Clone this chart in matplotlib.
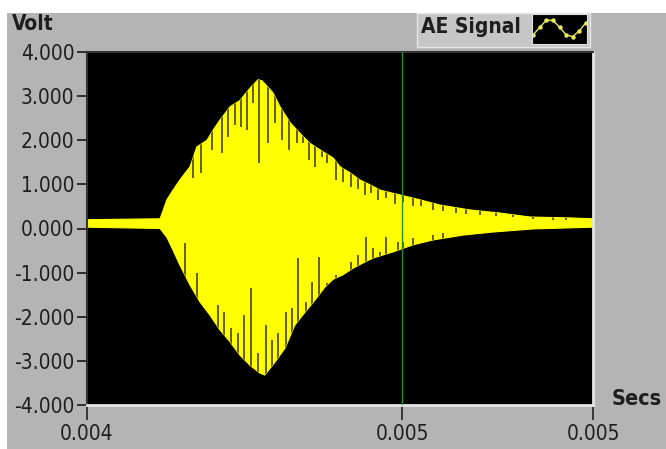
import numpy as np
import matplotlib
matplotlib.use('Agg')
import matplotlib.pyplot as plt
from matplotlib.patches import Rectangle

# --- data (time in seconds, amplitude in volts) ---
upper_t = [0.004000, 0.004202, 0.004208, 0.004221, 0.004238, 0.004257, 0.004285,
           0.004304, 0.004332, 0.004349, 0.004368, 0.004396, 0.004423, 0.004451,
           0.004473, 0.004484, 0.004501, 0.004515, 0.004534, 0.004562, 0.004589,
           0.004617, 0.004645, 0.004681, 0.004700, 0.004728, 0.004755, 0.004783,
           0.004811, 0.004866, 0.004921, 0.004977, 0.005060, 0.005143, 0.005226,
           0.005336, 0.005400]
upper_v = [0.20, 0.22, 0.35, 0.65, 0.87, 1.10, 1.40,
           1.85, 2.00, 2.23, 2.46, 2.76, 2.90, 3.18,
           3.37, 3.35, 3.20, 3.07, 2.76, 2.40, 2.16,
           1.93, 1.78, 1.60, 1.40, 1.26, 1.10, 0.99,
           0.87, 0.76, 0.65, 0.53, 0.42, 0.35, 0.26,
           0.24, 0.22]

lower_t = [0.004000, 0.004202, 0.004221, 0.004238, 0.004257, 0.004285, 0.004313,
           0.004340, 0.004368, 0.004396, 0.004423, 0.004451, 0.004479, 0.004492,
           0.004520, 0.004548, 0.004575, 0.004603, 0.004631, 0.004658, 0.004681,
           0.004708, 0.004736, 0.004764, 0.004791, 0.004847, 0.004902, 0.004957,
           0.005040, 0.005123, 0.005234, 0.005400]
lower_v = [0.03, 0.00, -0.20, -0.49, -0.83, -1.28, -1.67,
           -1.96, -2.30, -2.57, -2.87, -3.10, -3.28, -3.32,
           -3.03, -2.71, -2.19, -1.90, -1.62, -1.33, -1.15,
           -1.05, -0.90, -0.78, -0.67, -0.53, -0.37, -0.26,
           -0.15, -0.08, -0.01, 0.03]

# dark gaps between cycles: time and the level each gap reaches
notch_up_t = [0.004293, 0.004315, 0.004346, 0.004374, 0.004390, 0.004409, 0.004426,
              0.004443, 0.004459, 0.004476, 0.004501, 0.004520, 0.004540, 0.004559,
              0.004581, 0.004598, 0.004614, 0.004631, 0.004650, 0.004664, 0.004689,
              0.004708, 0.004730, 0.004750, 0.004769, 0.004786, 0.004805, 0.004827,
              0.004852, 0.004874, 0.004902, 0.004924, 0.004957, 0.004985, 0.005021,
              0.005049, 0.005087, 0.005132, 0.005179, 0.005234, 0.005289, 0.005325]
notch_up_v = [1.15, 1.26, 1.78, 1.71, 2.07, 2.34, 2.30,
              2.23, 2.85, 1.49, 1.93, 2.40, 2.00, 1.78,
              1.93, 1.93, 1.55, 1.40, 1.62, 1.49, 1.10,
              1.05, 0.95, 0.90, 0.75, 0.80, 0.65, 0.70,
              0.55, 0.60, 0.50, 0.50, 0.42, 0.40, 0.35,
              0.33, 0.30, 0.28, 0.25, 0.22, 0.20, 0.20]
notch_lo_t = [0.004271, 0.004304, 0.004362, 0.004379, 0.004398, 0.004418, 0.004434,
              0.004454, 0.004473, 0.004495, 0.004512, 0.004528, 0.004551, 0.004567,
              0.004584, 0.004606, 0.004623, 0.004642, 0.004664, 0.004689, 0.004730,
              0.004750, 0.004772, 0.004791, 0.004811, 0.004827, 0.004860, 0.004874,
              0.004902, 0.004957, 0.004985]
notch_lo_v = [-0.33, -1.00, -1.74, -1.90, -2.26, -2.37, -1.96,
              -1.35, -2.82, -2.19, -2.53, -2.37, -1.90, -1.80,
              -0.67, -1.67, -1.21, -0.65, -1.24, -1.05, -0.76,
              -0.60, -0.19, -0.45, -0.53, -0.19, -0.30, -0.30,
              -0.21, -0.15, -0.10]

cursor_t = 0.004872
x_ticks = [0.004000, 0.004872, 0.005400]
y_ticks = [-4, -3, -2, -1, 0, 1, 2, 3, 4]

W, H = 666, 449
grey = '#b4b4b4'
ink = '#1e1e1e'

plt.rcParams['font.family'] = ['DejaVu Sans']
plt.rcParams['font.stretch'] = 'condensed'

fig = plt.figure(figsize=(W / 100, H / 100), dpi=100, facecolor=grey)

# white strip along top and left edge of the screenshot
fig.patches.append(Rectangle((0, 1 - 13 / H), 1, 13 / H, transform=fig.transFigure,
                             facecolor='white', edgecolor='none', zorder=0))
fig.patches.append(Rectangle((0, 0), 7 / W, 1, transform=fig.transFigure,
                             facecolor='white', edgecolor='none', zorder=0))

ax = fig.add_axes([87 / W, 1 - 405 / H, (593 - 87) / W, (405 - 52) / H])
ax.set_facecolor('black')

# signal envelope as a filled polygon
poly_t = upper_t + lower_t[::-1]
poly_v = upper_v + lower_v[::-1]
env = ax.fill(poly_t, poly_v, color='#ffff00', lw=0.8, edgecolor='#ffff00', zorder=2)[0]

# gaps only show inside the yellow area
lc1 = ax.vlines(notch_up_t, notch_up_v, 4, color='#3a3200', lw=1.1, zorder=3)
lc2 = ax.vlines(notch_lo_t, -4, notch_lo_v, color='#3a3200', lw=1.1, zorder=3)
lc1.set_clip_path(env)
lc2.set_clip_path(env)

ax.axvline(cursor_t, color='#2f8a35', lw=1, zorder=4)

ax.set_xlim(x_ticks[0], x_ticks[-1])
ax.set_ylim(-4, 4)
ax.set_yticks(y_ticks)
ax.set_yticklabels([f'{v:.3f}' for v in y_ticks])
ax.set_xticks(x_ticks)
ax.set_xticklabels([f'{v:.3f}' for v in x_ticks])
ax.tick_params(axis='y', length=7, width=1.3, color='#222222', labelsize=15,
               labelcolor=ink, pad=2)
ax.tick_params(axis='x', length=11, width=1.2, color='#222222', labelsize=15,
               labelcolor=ink, pad=3)

for side in ('top', 'left'):
    ax.spines[side].set_color('#333333')
    ax.spines[side].set_linewidth(1.5)
for side in ('bottom', 'right'):
    ax.spines[side].set_color('#e6e6e6')
    ax.spines[side].set_linewidth(2)

fig.text(12 / W, 1 - 24 / H, 'Volt', fontsize=15, fontweight='bold',
         color=ink, va='center', ha='left')
fig.text(612 / W, 1 - 399 / H, 'Secs', fontsize=15.5, fontweight='bold',
         color=ink, va='center', ha='left')

# legend box
fig.patches.append(Rectangle((417 / W, 1 - 47 / H), 173 / W, 34 / H,
                             transform=fig.transFigure, facecolor='#c6c6c6',
                             edgecolor='#e6e6e6', lw=1, zorder=1))
fig.text(421 / W, 1 - 27 / H, 'AE Signal', fontsize=15, fontweight='bold',
         color=ink, va='center', ha='left')
sw = fig.add_axes([532 / W, 1 - 44 / H, 55 / W, 30 / H])
sw.set_zorder(5)
sw.set_facecolor('black')
s = np.linspace(0, 1, 9)
sw.plot(s, np.sin(s * 2 * np.pi * 1.25 - 0.9), color='#e8e860', lw=1,
        marker='o', ms=2.2)
sw.set_xlim(-0.02, 1.02)
sw.set_ylim(-1.8, 1.6)
sw.set_xticks([])
sw.set_yticks([])
for sp in sw.spines.values():
    sp.set_color('#e0e0e0')

fig.savefig('out.png', dpi=100, facecolor=grey)
